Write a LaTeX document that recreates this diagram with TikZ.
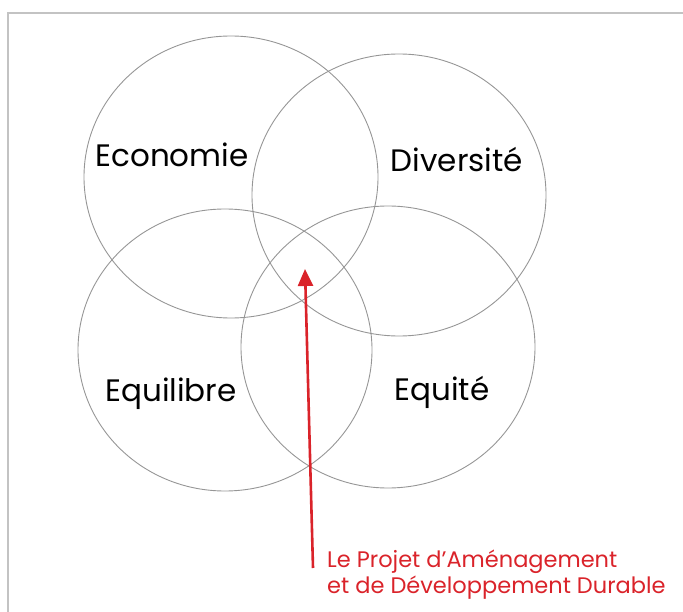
\documentclass[tikz,border=0pt]{standalone}
\usepackage{fontspec}
\setmainfont{Poppins}
\usetikzlibrary{arrows.meta}
\definecolor{ringgray}{RGB}{150,150,150}
\definecolor{framegray}{RGB}{195,195,195}
\definecolor{padred}{RGB}{218,35,42}
\tikzset{
  ring/.style={draw=ringgray,line width=0.9pt},
  lbl/.style={inner sep=0pt,anchor=base,font=\fontsize{31}{31}\selectfont},
  padlbl/.style={inner sep=0pt,anchor=base west,align=left,text=padred,
    font=\fontsize{22.5}{26}\selectfont}
}
\begin{document}
\begin{tikzpicture}[x=1pt,y=-1pt,>={Triangle[length=17pt,width=15pt]}]
  \useasboundingbox (0,0) rectangle (683,612);
  % frame
  \draw[framegray,line width=2pt] (8,612) -- (8,13) -- (683,13);
  % the four circles
  \draw[ring] (231,177) ellipse [x radius=147, y radius=141];
  \draw[ring] (399,195) ellipse [x radius=147, y radius=141];
  \draw[ring] (225,350) ellipse [x radius=147, y radius=141];
  \draw[ring] (388,347) ellipse [x radius=147, y radius=141];
  \node[lbl] (eco) at (172,167) {Economie};
  \node[lbl] (div) at (457,172) {Diversité};
  \node[lbl] (equil) at (171,402) {Equilibre};
  \node[lbl] (equit) at (442,400) {Equité};
  \node[padlbl] (pad) at (327,593) {Le Projet d’Aménagement\\et de Développement Durable};
  \coordinate (src) at (313,568);
  \coordinate (tip) at (305,269);
  \draw[padred,line width=2.6pt,->] (src) -- (tip);
\end{tikzpicture}
\end{document}
